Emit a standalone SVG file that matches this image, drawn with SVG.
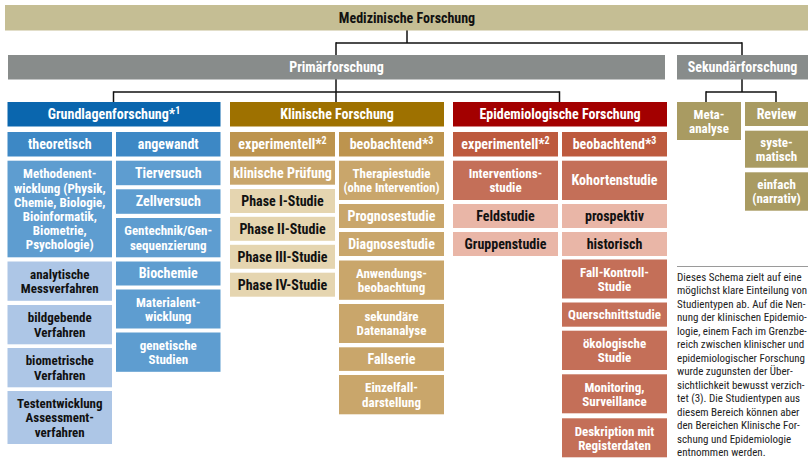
<svg xmlns="http://www.w3.org/2000/svg" width="808" height="458" viewBox="0 0 808 458">
<style>
text{font-family:"Liberation Sans Narrow","Roboto Condensed","DejaVu Sans Condensed","Liberation Sans",sans-serif;font-weight:bold;font-size:13px;text-anchor:middle;fill:#fff}
text.k{fill:#111}
text.h{font-size:14px}
.top{fill:#c5be94}
.gray{fill:#888c8b}
.bh{fill:#0a66ae}.bs{fill:#3d88c5}.bi{fill:#5e9dd0}.bl{fill:#adc6e6}
.kh{fill:#9e7100}.ks{fill:#bd944e}.ki{fill:#c9a66b}.kl{fill:#e5d5b0}
.eh{fill:#a30000}.es{fill:#bd5a3e}.ei{fill:#c46f58}.el{fill:#e9b6a7}
.sk{fill:#a99b62}
.conn line{stroke:#111;stroke-width:1.5}
text.p{font-weight:normal;font-size:11px;text-anchor:start;fill:#222}
</style>

<g id="connectors" class="conn">
<line x1="407" y1="30" x2="407" y2="43"/>
<line x1="336" y1="43" x2="742" y2="43"/>
<line x1="336" y1="42.3" x2="336" y2="55"/>
<line x1="742" y1="42.3" x2="742" y2="55"/>
<line x1="336" y1="79" x2="336" y2="102"/>
<line x1="113.5" y1="92" x2="559.5" y2="92"/>
<line x1="113.5" y1="91.3" x2="113.5" y2="102"/>
<line x1="559.5" y1="91.3" x2="559.5" y2="102"/>
<line x1="742" y1="79" x2="742" y2="92"/>
<line x1="706" y1="92" x2="776" y2="92"/>
<line x1="706" y1="91.3" x2="706" y2="102"/>
<line x1="776" y1="91.3" x2="776" y2="102"/>
</g>

<g id="medizinische-forschung"><rect class="top" x="5" y="5" width="803" height="25.5"/><text class="k h" x="407" y="22.8">Medizinische Forschung</text></g>
<g id="primaerforschung"><rect class="gray" x="8" y="55" width="657" height="24.5"/><text class="h" x="336.5" y="72.2">Primärforschung</text></g>
<g id="sekundaerforschung"><rect class="gray" x="677" y="55" width="131" height="24.5"/><text class="h" x="742.5" y="72.2">Sekundärforschung</text></g>

<g id="grundlagenforschung"><rect class="bh" x="7.5" y="102" width="213" height="24.5"/><text class="h" x="114" y="119">Grundlagenforschung*<tspan font-size="10" dy="-5">1</tspan></text></g>
<g id="klinische-forschung"><rect class="kh" x="230" y="102" width="214" height="24.5"/><text class="h" x="337" y="119">Klinische Forschung</text></g>
<g id="epidemiologische-forschung"><rect class="eh" x="453" y="102" width="214" height="24.5"/><text class="h" x="560" y="119">Epidemiologische Forschung</text></g>

<g id="theoretisch"><rect class="bs" x="7.5" y="132" width="104.5" height="24.5"/><text class="h" x="59.75" y="149">theoretisch</text></g>
<g id="angewandt"><rect class="bs" x="116" y="132" width="104.5" height="24.5"/><text class="h" x="168.25" y="149">angewandt</text></g>
<g id="k-experimentell"><rect class="ks" x="230" y="132" width="105" height="24.5"/><text class="h" x="282.5" y="149">experimentell*<tspan font-size="10" dy="-5">2</tspan></text></g>
<g id="k-beobachtend"><rect class="ks" x="339" y="132" width="105" height="24.5"/><text class="h" x="391.5" y="149">beobachtend*<tspan font-size="10" dy="-5">3</tspan></text></g>
<g id="e-experimentell"><rect class="es" x="453" y="132" width="105" height="24.5"/><text class="h" x="505.5" y="149">experimentell*<tspan font-size="10" dy="-5">2</tspan></text></g>
<g id="e-beobachtend"><rect class="es" x="562" y="132" width="105" height="24.5"/><text class="h" x="614.5" y="149">beobachtend*<tspan font-size="10" dy="-5">3</tspan></text></g>

<g id="methodenentwicklung"><rect class="bi" x="7.5" y="160.7" width="104.5" height="96.6"/><text x="59.75" y="178.3">Methodenent-<tspan x="59.75" dy="14.2">wicklung (Physik,</tspan><tspan x="59.75" dy="14.2">Chemie, Biologie,</tspan><tspan x="59.75" dy="14.2">Bioinformatik,</tspan><tspan x="59.75" dy="14.2">Biometrie,</tspan><tspan x="59.75" dy="14.2">Psychologie)</tspan></text></g>
<g id="analytische-messverfahren"><rect class="bl" x="7.5" y="261.5" width="104.5" height="39.3"/><text class="k" x="59.75" y="278.8">analytische<tspan x="59.75" dy="14.2">Messverfahren</tspan></text></g>
<g id="bildgebende-verfahren"><rect class="bl" x="7.5" y="305" width="104.5" height="39.3"/><text class="k" x="59.75" y="322.3">bildgebende<tspan x="59.75" dy="14.2">Verfahren</tspan></text></g>
<g id="biometrische-verfahren"><rect class="bl" x="7.5" y="348" width="104.5" height="39.3"/><text class="k" x="59.75" y="365.3">biometrische<tspan x="59.75" dy="14.2">Verfahren</tspan></text></g>
<g id="testentwicklung"><rect class="bl" x="7.5" y="391" width="104.5" height="53"/><text class="k" x="59.75" y="408.1">Testentwicklung<tspan x="59.75" dy="14.2">Assessment-</tspan><tspan x="59.75" dy="14.2">verfahren</tspan></text></g>

<g id="tierversuch"><rect class="bi" x="116" y="160.7" width="104.5" height="24.5"/><text class="h" x="168.25" y="177.8">Tierversuch</text></g>
<g id="zellversuch"><rect class="bi" x="116" y="189.3" width="104.5" height="24.5"/><text class="h" x="168.25" y="206.4">Zellversuch</text></g>
<g id="gentechnik"><rect class="bi" x="116" y="218" width="104.5" height="39.3"/><text x="168.25" y="235.3">Gentechnik/Gen-<tspan x="168.25" dy="14.2">sequenzierung</tspan></text></g>
<g id="biochemie"><rect class="bi" x="116" y="261.5" width="104.5" height="24"/><text class="h" x="168.25" y="278.4">Biochemie</text></g>
<g id="materialentwicklung"><rect class="bi" x="116" y="289.5" width="104.5" height="39"/><text x="168.25" y="306.7">Materialent-<tspan x="168.25" dy="14.2">wicklung</tspan></text></g>
<g id="genetische-studien"><rect class="bi" x="116" y="332.5" width="104.5" height="39.3"/><text x="168.25" y="349.8">genetische<tspan x="168.25" dy="14.2">Studien</tspan></text></g>

<g id="klinische-pruefung"><rect class="ki" x="230" y="160.7" width="105" height="24"/><text class="h" x="282.5" y="177.6">klinische Prüfung</text></g>
<g id="phase-1"><rect class="kl" x="230" y="189" width="105" height="24"/><text class="k h" x="282.5" y="205.9">Phase I-Studie</text></g>
<g id="phase-2"><rect class="kl" x="230" y="216.8" width="105" height="24"/><text class="k h" x="282.5" y="233.7">Phase II-Studie</text></g>
<g id="phase-3"><rect class="kl" x="230" y="244.8" width="105" height="24"/><text class="k h" x="282.5" y="261.7">Phase III-Studie</text></g>
<g id="phase-4"><rect class="kl" x="230" y="272.7" width="105" height="24"/><text class="k h" x="282.5" y="289.6">Phase IV-Studie</text></g>

<g id="therapiestudie"><rect class="ki" x="339" y="160.7" width="105" height="39.3"/><text x="391.5" y="178">Therapiestudie<tspan x="391.5" dy="14.2" font-size="12.5">(ohne Intervention)</tspan></text></g>
<g id="prognosestudie"><rect class="ki" x="339" y="204" width="105" height="24"/><text class="h" x="391.5" y="220.9">Prognosestudie</text></g>
<g id="diagnosestudie"><rect class="ki" x="339" y="232" width="105" height="24"/><text class="h" x="391.5" y="248.9">Diagnosestudie</text></g>
<g id="anwendungsbeobachtung"><rect class="ki" x="339" y="260.5" width="105" height="39.3"/><text x="391.5" y="277.8">Anwendungs-<tspan x="391.5" dy="14.2">beobachtung</tspan></text></g>
<g id="sekundaere-datenanalyse"><rect class="ki" x="339" y="304" width="105" height="39"/><text x="391.5" y="321.2">sekundäre<tspan x="391.5" dy="14.2">Datenanalyse</tspan></text></g>
<g id="fallserie"><rect class="ki" x="339" y="347.3" width="105" height="23.6"/><text class="h" x="391.5" y="364">Fallserie</text></g>
<g id="einzelfalldarstellung"><rect class="ki" x="339" y="375" width="105" height="39.3"/><text x="391.5" y="392.3">Einzelfall-<tspan x="391.5" dy="14.2">darstellung</tspan></text></g>

<g id="interventionsstudie"><rect class="ei" x="453" y="160.7" width="105" height="39.3"/><text x="505.5" y="178">Interventions-<tspan x="505.5" dy="14.2">studie</tspan></text></g>
<g id="feldstudie"><rect class="el" x="453" y="204" width="105" height="24"/><text class="k h" x="505.5" y="220.9">Feldstudie</text></g>
<g id="gruppenstudie"><rect class="el" x="453" y="232" width="105" height="24"/><text class="k h" x="505.5" y="248.9">Gruppenstudie</text></g>

<g id="kohortenstudie"><rect class="ei" x="562" y="160.7" width="105" height="39.3"/><text class="h" x="614.5" y="185.3">Kohortenstudie</text></g>
<g id="prospektiv"><rect class="el" x="562" y="204" width="105" height="24"/><text class="k h" x="614.5" y="220.9">prospektiv</text></g>
<g id="historisch"><rect class="el" x="562" y="232" width="105" height="24"/><text class="k h" x="614.5" y="248.9">historisch</text></g>
<g id="fall-kontroll-studie"><rect class="ei" x="562" y="259.5" width="105" height="39"/><text x="614.5" y="276.7">Fall-Kontroll-<tspan x="614.5" dy="14.2">Studie</tspan></text></g>
<g id="querschnittstudie"><rect class="ei" x="562" y="302.5" width="105" height="24.2"/><text x="614.5" y="319.4" font-size="13.5">Querschnittstudie</text></g>
<g id="oekologische-studie"><rect class="ei" x="562" y="330.7" width="105" height="39.3"/><text x="614.5" y="348">ökologische<tspan x="614.5" dy="14.2">Studie</tspan></text></g>
<g id="monitoring"><rect class="ei" x="562" y="374.3" width="105" height="39"/><text x="614.5" y="391.5">Monitoring,<tspan x="614.5" dy="14.2">Surveillance</tspan></text></g>
<g id="deskription"><rect class="ei" x="562" y="418.3" width="105" height="39"/><text x="614.5" y="435.5">Deskription mit<tspan x="614.5" dy="14.2">Registerdaten</tspan></text></g>

<g id="metaanalyse"><rect class="sk" x="677" y="102" width="64" height="38"/><text x="709" y="118.7">Meta-<tspan x="709" dy="14.2">analyse</tspan></text></g>
<g id="review"><rect class="sk" x="745" y="102" width="63" height="24"/><text class="h" x="776.5" y="118.9">Review</text></g>
<g id="systematisch"><rect class="sk" x="745" y="130.7" width="63" height="37"/><text x="776.5" y="146.9">syste-<tspan x="776.5" dy="14.2">matisch</tspan></text></g>
<g id="einfach"><rect class="sk" x="745" y="172.3" width="63" height="38.4"/><text x="776.5" y="189.2">einfach<tspan x="776.5" dy="14.2">(narrativ)</tspan></text></g>

<g id="note">
<line x1="677" y1="266.5" x2="808" y2="266.5" stroke="#9a9a9a" stroke-width="1"/>
<text class="p" x="677" y="280.5">Dieses Schema zielt auf eine<tspan x="677" dy="13.5">möglichst klare Einteilung von</tspan><tspan x="677" dy="13.5">Studientypen ab. Auf die Nen-</tspan><tspan x="677" dy="13.5">nung der klinischen Epidemio-</tspan><tspan x="677" dy="13.5">logie, einem Fach im Grenzbe-</tspan><tspan x="677" dy="13.5">reich zwischen klinischer und</tspan><tspan x="677" dy="13.5">epidemiologischer Forschung</tspan><tspan x="677" dy="13.5">wurde zugunsten der Über-</tspan><tspan x="677" dy="13.5">sichtlichkeit bewusst verzich-</tspan><tspan x="677" dy="13.5">tet (3). Die Studientypen aus</tspan><tspan x="677" dy="13.5">diesem Bereich können aber</tspan><tspan x="677" dy="13.5">den Bereichen Klinische For-</tspan><tspan x="677" dy="13.5">schung und Epidemiologie</tspan><tspan x="677" dy="13.5">entnommen werden.</tspan></text>
</g>
</svg>
